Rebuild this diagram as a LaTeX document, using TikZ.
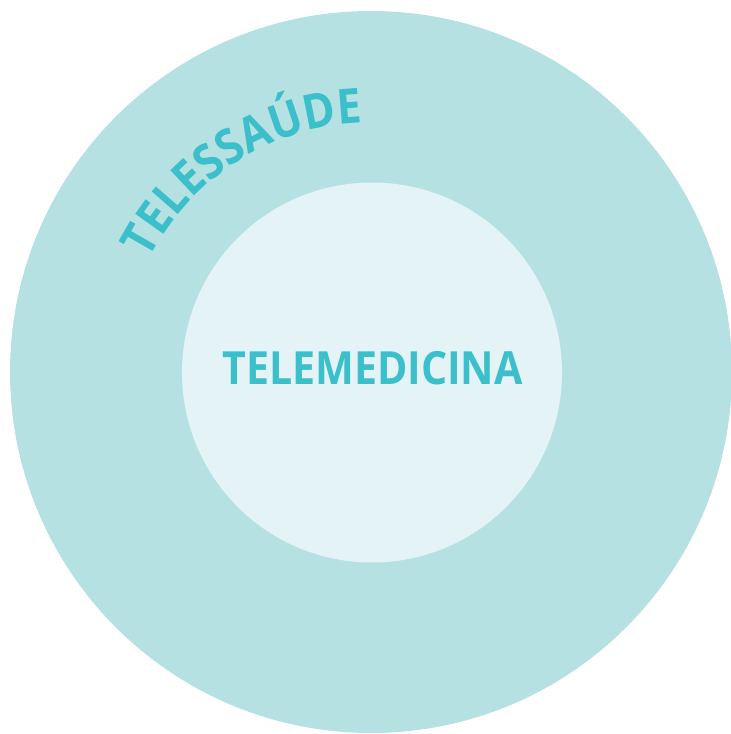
\documentclass[tikz,border=0pt]{standalone}
\usepackage{fontspec}
\newfontfamily\diagramfont[FakeStretch=0.9]{Open Sans}
\usetikzlibrary{decorations.text}
\definecolor{ring}{RGB}{181,225,226}
\definecolor{core}{RGB}{227,243,246}
\definecolor{teal-text}{RGB}{59,191,203}

\begin{document}
\begin{tikzpicture}[
  area/.style={circle, inner sep=0pt, minimum size=#1},
  title/.style={font=\diagramfont\bfseries\fontsize{26}{30}\selectfont, text=teal-text}]

\useasboundingbox (0,0) rectangle (14.62,14.68);
\coordinate (c) at (7.42,7.24);

\node [area=14.44cm, fill=ring] (telessaude) at (c) {};
\node [area=7.6cm, fill=core] (telemedicina) at (7.44,7.23) {};
\node [title] (inner-label) at (7.45,7.32) {TELEMEDICINA};

% label bent along the outer ring
\path [decorate, decoration={text along path, text align=center,
  text={|\diagramfont\bfseries\fontsize{27.5}{32}\selectfont\color{teal-text}|TELESSAÚDE}}]
  ([shift={(156:4.98)}]c) arc [start angle=156, end angle=89, radius=4.98];

\end{tikzpicture}
\end{document}
